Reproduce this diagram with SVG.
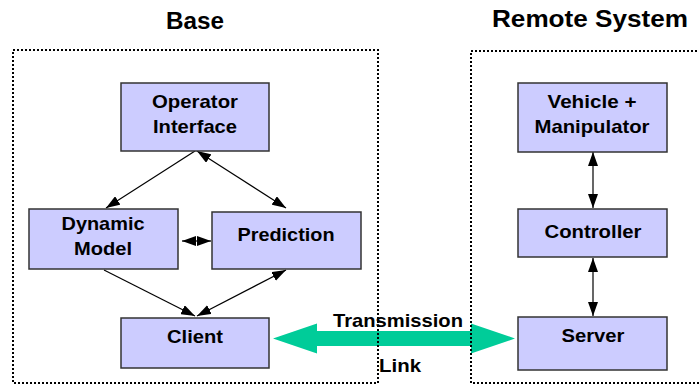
<svg xmlns="http://www.w3.org/2000/svg" width="699" height="385" viewBox="0 0 699 385">
  <style>
    .node rect { fill: #ccccff; stroke: #333333; stroke-width: 1.5; }
    .node text, .title, .label { font-family: "Liberation Sans", Arial, sans-serif; font-weight: bold; fill: #000000; text-anchor: middle; }
    .node text { font-size: 19px; }
    .title { font-size: 23px; }
    .label { font-size: 19px; }
    .conn line { stroke: #000000; stroke-width: 1.2; }
    .frame { fill: none; stroke: #000000; stroke-width: 2; stroke-dasharray: 2 2; }
  </style>
  <defs>
    <marker id="head" viewBox="0 0 14 10" refX="14" refY="5" markerWidth="14" markerHeight="10" markerUnits="userSpaceOnUse" orient="auto-start-reverse">
      <path d="M0,0 L14,5 L0,10 Z" fill="#000000"/>
    </marker>
  </defs>

  <!-- titles -->
  <text class="title" x="195" y="29" textLength="58" lengthAdjust="spacingAndGlyphs">Base</text>
  <text class="title" x="590" y="27" textLength="196" lengthAdjust="spacingAndGlyphs">Remote System</text>

  <!-- transmission link -->
  <g id="link">
    <polygon points="273,338.5 317,323.5 317,331 471,331 471,323.5 515,338.5 471,353.5 471,346 317,346 317,353.5" fill="#00cc99"/>
    <text class="label" x="398" y="327" textLength="130" lengthAdjust="spacingAndGlyphs">Transmission</text>
    <text class="label" x="400" y="372" textLength="42" lengthAdjust="spacingAndGlyphs">Link</text>
  </g>

  <!-- dotted system frames -->
  <rect class="frame" x="13" y="50" width="365" height="333"/>
  <rect class="frame" x="471" y="51" width="240" height="332"/>

  <!-- connectors -->
  <g class="conn">
    <line x1="195" y1="151" x2="106" y2="208" marker-end="url(#head)"/>
    <line x1="197" y1="151" x2="286" y2="208" marker-start="url(#head)" marker-end="url(#head)"/>
    <line x1="182" y1="241" x2="211" y2="241" marker-start="url(#head)" marker-end="url(#head)"/>
    <line x1="104" y1="270" x2="195" y2="316" marker-end="url(#head)"/>
    <line x1="197" y1="316" x2="286" y2="270" marker-start="url(#head)" marker-end="url(#head)"/>
    <line x1="593" y1="152" x2="593" y2="208" marker-start="url(#head)" marker-end="url(#head)"/>
    <line x1="593" y1="258" x2="593" y2="316" marker-start="url(#head)" marker-end="url(#head)"/>
  </g>

  <!-- base nodes -->
  <g id="operator-interface" class="node">
    <rect x="121" y="83" width="148" height="68"/>
    <text x="195" y="108" textLength="86" lengthAdjust="spacingAndGlyphs">Operator</text>
    <text x="195" y="133" textLength="84" lengthAdjust="spacingAndGlyphs">Interface</text>
  </g>
  <g id="dynamic-model" class="node">
    <rect x="29" y="209" width="149" height="60"/>
    <text x="103" y="230" textLength="83" lengthAdjust="spacingAndGlyphs">Dynamic</text>
    <text x="103" y="255" textLength="58" lengthAdjust="spacingAndGlyphs">Model</text>
  </g>
  <g id="prediction" class="node">
    <rect x="212" y="212" width="149" height="57"/>
    <text x="286" y="241" textLength="97" lengthAdjust="spacingAndGlyphs">Prediction</text>
  </g>
  <g id="client" class="node">
    <rect x="121" y="318" width="148" height="50"/>
    <text x="195" y="343" textLength="56" lengthAdjust="spacingAndGlyphs">Client</text>
  </g>

  <!-- remote nodes -->
  <g id="vehicle-manipulator" class="node">
    <rect x="518" y="83" width="149" height="69"/>
    <text x="592" y="108" textLength="89" lengthAdjust="spacingAndGlyphs">Vehicle +</text>
    <text x="592" y="133" textLength="115" lengthAdjust="spacingAndGlyphs">Manipulator</text>
  </g>
  <g id="controller" class="node">
    <rect x="518" y="209" width="149" height="48"/>
    <text x="593" y="238" textLength="97" lengthAdjust="spacingAndGlyphs">Controller</text>
  </g>
  <g id="server" class="node">
    <rect x="518" y="317" width="149" height="53"/>
    <text x="593" y="342" textLength="63" lengthAdjust="spacingAndGlyphs">Server</text>
  </g>
</svg>
